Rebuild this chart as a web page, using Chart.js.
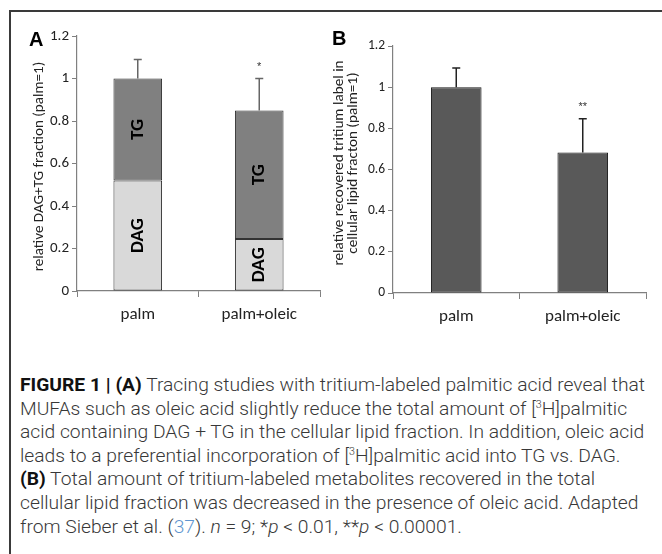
<!DOCTYPE html>
<html>
<head>
<meta charset="utf-8">
<script src="https://cdn.jsdelivr.net/npm/chart.js@4.4.1/dist/chart.umd.min.js"></script>
<style>
  body { margin: 0; background: #fff; width: 662px; height: 554px; overflow: hidden; position: relative; }
  #frame { position: absolute; left: 9px; top: 10px; width: 660px; height: 560px;
           border-top: 2px solid #3a3a3a; border-left: 2px solid #3a3a3a; }
  #boxA { position: absolute; left: 10px; top: 12px; width: 320px; height: 320px; }
  #boxB { position: absolute; left: 330px; top: 12px; width: 330px; height: 320px; }
  #caption { position: absolute; left: 20px; top: 373px; font-family: Roboto, "Liberation Sans", sans-serif;
             font-weight: 300; font-size: 18px; line-height: 23.6px; color: #383838; white-space: nowrap;
             transform-origin: 0 0; }
  #caption b { font-weight: 700; color: #111; }
  .ref { color: #5f95cf; }
</style>
</head>
<body>
<div id="frame"></div>
<div id="boxA"><canvas id="chartA" width="320" height="320"></canvas></div>
<div id="boxB"><canvas id="chartB" width="330" height="320"></canvas></div>
<div id="caption">
  <div><span id="line1"><b>FIGURE 1 | (A)</b> Tracing studies with tritium-labeled palmitic acid reveal that</span></div>
  <div>MUFAs such as oleic acid slightly reduce the total amount of [<sup style="font-size:10px;line-height:0">3</sup>H]palmitic</div>
  <div>acid containing DAG + TG in the cellular lipid fraction. In addition, oleic acid</div>
  <div>leads to a preferential incorporation of [<sup style="font-size:10px;line-height:0">3</sup>H]palmitic acid into TG vs. DAG.</div>
  <div><b>(B)</b> Total amount of tritium-labeled metabolites recovered in the total</div>
  <div>cellular lipid fraction was decreased in the presence of oleic acid. Adapted</div>
  <div>from Sieber et al. (<span class="ref">37</span>). <i>n</i> = 9; *<i>p</i> &lt; 0.01, **<i>p</i> &lt; 0.00001.</div>
</div>
<script>
// categories and values
const categories = ["palm", "palm+oleic"];
const dagValues = [0.52, 0.245];
const tgValues = [0.48, 0.605];          // stacked on DAG -> totals 1.0 and 0.85
const totalErrorsA = [0.09, 0.15];
const starsA = ["", "*"];

const tritiumValues = [1.0, 0.683];
const tritiumErrors = [0.093, 0.163];
const starsB = ["", "**"];

const yMin = 0, yMax = 1.2, yStep = 0.2;

const axisGray = "#808080";
const fam = "Carlito, Lato, sans-serif";

// draws panel letter, axis title, segment labels, error bars and stars
const panelText = {
  id: "panelText",
  afterDatasetsDraw(chart, args, opts) {
    const ctx = chart.ctx;
    const y = chart.scales.y;
    ctx.save();

    // error bars on the top dataset
    const top = chart.getDatasetMeta(chart.data.datasets.length - 1);
    top.data.forEach(function (bar, i) {
      const x = bar.x;
      const y0 = bar.y;
      const y1 = y.getPixelForValue(opts.totals[i] + opts.errors[i]);
      ctx.strokeStyle = opts.errColor;
      ctx.lineWidth = 1.5;
      ctx.beginPath();
      ctx.moveTo(x, y0);
      ctx.lineTo(x, y1);
      ctx.moveTo(x - 4, y1);
      ctx.lineTo(x + 4, y1);
      ctx.stroke();
      if (opts.stars[i]) {
        ctx.fillStyle = "#333";
        ctx.font = "11px Arial";
        ctx.textAlign = "center";
        ctx.textBaseline = "middle";
        ctx.fillText(opts.stars[i], x, y1 - 12);
      }
    });

    // rotated labels in the stacked segments
    if (opts.segLabels) {
      chart.data.datasets.forEach(function (ds, d) {
        chart.getDatasetMeta(d).data.forEach(function (bar) {
          ctx.save();
          ctx.translate(bar.x, (bar.y + bar.base) / 2);
          ctx.rotate(-Math.PI / 2);
          ctx.fillStyle = "#000";
          ctx.font = "bold 19px " + fam;
          ctx.textAlign = "center";
          ctx.textBaseline = "middle";
          ctx.fillText(opts.segLabels[d], 0, 0);
          ctx.restore();
        });
      });
    }

    // panel letter
    ctx.fillStyle = "#000";
    ctx.font = "bold 20px Arial, 'Liberation Sans', sans-serif";
    ctx.textAlign = "left";
    ctx.textBaseline = "alphabetic";
    ctx.fillText(opts.letter, opts.letterX, opts.letterY);

    // y axis title (one or two lines)
    ctx.fillStyle = "#222";
    ctx.font = opts.titleSize + "px " + fam;
    ctx.textAlign = "center";
    ctx.textBaseline = "middle";
    opts.title.forEach(function (line, k) {
      ctx.save();
      ctx.translate(opts.titleX[k], opts.titleY);
      ctx.rotate(-Math.PI / 2);
      ctx.fillText(line, 0, 0);
      ctx.restore();
    });
    ctx.restore();
  }
};

function scalesFor(yWidth, xHeight, tickSize, stacked) {
  return {
    x: {
      stacked: stacked,
      grid: { display: true, offset: true, drawOnChartArea: false, tickLength: 6, color: axisGray },
      border: { color: axisGray, width: 1.2 },
      ticks: { font: { family: fam, size: 17 }, color: "#222", padding: 8 },
      afterFit: function (s) { s.height = xHeight; }
    },
    y: {
      stacked: stacked,
      min: yMin, max: yMax,
      grid: { display: true, drawOnChartArea: false, tickLength: 5, color: axisGray },
      border: { color: axisGray, width: 1.2 },
      ticks: {
        stepSize: yStep, font: { family: fam, size: tickSize }, color: "#222", padding: 3,
        callback: function (v) { return String(+v.toFixed(1)); }
      },
      afterFit: function (s) { s.width = yWidth; }
    }
  };
}

new Chart(document.getElementById("chartA"), {
  type: "bar",
  data: {
    labels: categories,
    datasets: [
      { label: "DAG", data: dagValues, backgroundColor: "#d9d9d9", borderColor: "#333",
        borderWidth: 1, borderSkipped: false, barPercentage: 0.4, categoryPercentage: 1 },
      { label: "TG", data: tgValues, backgroundColor: "#808080", borderColor: "#333",
        borderWidth: 1, borderSkipped: false, barPercentage: 0.4, categoryPercentage: 1 }
    ]
  },
  options: {
    responsive: false,
    animation: false,
    layout: { padding: { top: 24, right: 10, left: 0, bottom: 0 } },
    scales: scalesFor(67, 41, 15, true),
    plugins: {
      legend: { display: false },
      tooltip: { enabled: false },
      panelText: {
        letter: "A", letterX: 19, letterY: 34,
        title: ["relative DAG+TG fraction (palm=1)"], titleX: [29], titleY: 154.5, titleSize: 15.1,
        segLabels: ["DAG", "TG"],
        totals: dagValues.map(function (v, i) { return v + tgValues[i]; }),
        errors: totalErrorsA, stars: starsA, errColor: "#666"
      }
    }
  },
  plugins: [panelText]
});

new Chart(document.getElementById("chartB"), {
  type: "bar",
  data: {
    labels: categories,
    datasets: [
      { label: "tritium", data: tritiumValues, backgroundColor: "#595959", borderColor: "#1a1a1a",
        borderWidth: 1, borderSkipped: false, barPercentage: 0.4, categoryPercentage: 1 }
    ]
  },
  options: {
    responsive: false,
    animation: false,
    layout: { padding: { top: 34, right: 14, left: 0, bottom: 0 } },
    scales: scalesFor(63, 39, 13.5, false),
    plugins: {
      legend: { display: false },
      tooltip: { enabled: false },
      panelText: {
        letter: "B", letterX: 2, letterY: 33,
        title: ["relative recovered tritium label in", "cellular lipid fracton (palm=1)"],
        titleX: [9, 23], titleY: 151, titleSize: 15.2,
        totals: tritiumValues, errors: tritiumErrors, stars: starsB, errColor: "#222"
      }
    }
  },
  plugins: [panelText]
});

// squeeze the caption so the first line spans the same width as in the figure
const cap = document.getElementById("caption");
const w1 = document.getElementById("line1").getBoundingClientRect().width;
cap.style.transform = "scaleX(" + (625 / w1) + ")";
</script>
</body>
</html>
